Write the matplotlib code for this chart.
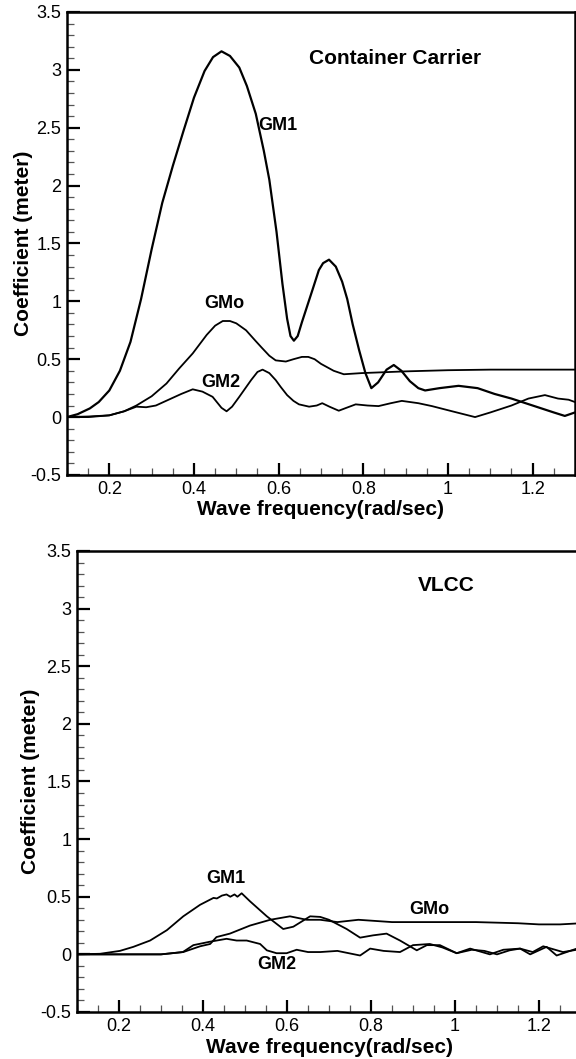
import matplotlib
matplotlib.use("Agg")
import matplotlib.pyplot as plt
from matplotlib.ticker import MultipleLocator

plt.rcParams['font.family'] = ['Liberation Sans', 'DejaVu Sans']

# Container carrier response coefficients
CC_GM1_W = [0.10, 0.125, 0.154, 0.175, 0.20, 0.225, 0.25, 0.275, 0.30, 0.325, 0.35, 0.375, 0.40,
            0.425, 0.445, 0.465, 0.485, 0.507, 0.525, 0.546, 0.565, 0.578, 0.595, 0.609, 0.62,
            0.628, 0.636, 0.645, 0.655, 0.68, 0.695, 0.705, 0.719, 0.735, 0.75, 0.762, 0.775,
            0.79, 0.805, 0.819, 0.835, 0.855, 0.872, 0.89, 0.91, 0.93, 0.946, 0.98, 1.025,
            1.07, 1.11, 1.15, 1.20, 1.25, 1.276, 1.30]
CC_GM1 = [0.0, 0.025, 0.075, 0.13, 0.23, 0.40, 0.65, 1.02, 1.45, 1.85, 2.17, 2.47, 2.76,
          2.99, 3.11, 3.16, 3.12, 3.02, 2.86, 2.62, 2.30, 2.05, 1.60, 1.15, 0.85,
          0.70, 0.66, 0.70, 0.82, 1.10, 1.27, 1.33, 1.36, 1.30, 1.17, 1.02, 0.80,
          0.58, 0.38, 0.25, 0.30, 0.41, 0.45, 0.40, 0.31, 0.25, 0.23, 0.25, 0.27,
          0.25, 0.20, 0.16, 0.10, 0.04, 0.01, 0.04]

CC_GMO_W = [0.10, 0.15, 0.20, 0.235, 0.264, 0.30, 0.335, 0.365, 0.397, 0.43, 0.45, 0.468, 0.485,
            0.50, 0.523, 0.545, 0.56, 0.578, 0.593, 0.617, 0.635, 0.655, 0.67, 0.685, 0.70,
            0.715, 0.73, 0.754, 0.796, 0.90, 1.00, 1.10, 1.20, 1.30]
CC_GMO = [0.0, 0.005, 0.015, 0.05, 0.10, 0.18, 0.29, 0.42, 0.55, 0.71, 0.79, 0.83, 0.83,
          0.81, 0.75, 0.66, 0.60, 0.53, 0.49, 0.48, 0.50, 0.52, 0.52, 0.50, 0.46,
          0.43, 0.40, 0.37, 0.38, 0.395, 0.405, 0.41, 0.41, 0.41]

CC_GM2_W = [0.10, 0.15, 0.20, 0.235, 0.264, 0.287, 0.31, 0.34, 0.37, 0.397, 0.42, 0.444, 0.465,
            0.477, 0.49, 0.507, 0.535, 0.55, 0.562, 0.578, 0.593, 0.605, 0.62, 0.635, 0.648,
            0.672, 0.69, 0.703, 0.72, 0.742, 0.76, 0.782, 0.81, 0.836, 0.865, 0.891, 0.93,
            0.962, 1.01, 1.064, 1.10, 1.15, 1.19, 1.229, 1.26, 1.285, 1.30]
CC_GM2 = [0.0, 0.0, 0.015, 0.05, 0.09, 0.085, 0.10, 0.15, 0.20, 0.24, 0.22, 0.175, 0.08,
          0.05, 0.09, 0.175, 0.32, 0.39, 0.41, 0.38, 0.32, 0.26, 0.19, 0.14, 0.11,
          0.09, 0.10, 0.12, 0.09, 0.055, 0.08, 0.11, 0.10, 0.095, 0.12, 0.14, 0.12,
          0.095, 0.05, 0.0, 0.04, 0.10, 0.16, 0.19, 0.16, 0.15, 0.13]

# VLCC response coefficients
VL_GM1_W = [0.10, 0.155, 0.202, 0.234, 0.274, 0.314, 0.353, 0.393, 0.425, 0.433, 0.445, 0.456,
            0.465, 0.475, 0.482, 0.492, 0.512, 0.552, 0.591, 0.615, 0.655, 0.679, 0.70, 0.742,
            0.774, 0.805, 0.837, 0.869, 0.909, 0.933, 0.964, 1.004, 1.036, 1.083, 1.115, 1.155,
            1.179, 1.218, 1.242, 1.29]
VL_GM1 = [0.0, 0.005, 0.03, 0.065, 0.12, 0.21, 0.33, 0.43, 0.49, 0.485, 0.51, 0.52,
          0.50, 0.52, 0.50, 0.53, 0.46, 0.33, 0.22, 0.24, 0.33, 0.325, 0.30, 0.22,
          0.145, 0.165, 0.18, 0.12, 0.035, 0.08, 0.08, 0.01, 0.05, 0.0, 0.04, 0.05,
          0.0, 0.065, -0.01, 0.05]

VL_GMO_W = [0.10, 0.30, 0.353, 0.393, 0.417, 0.432, 0.464, 0.512, 0.56, 0.607, 0.647, 0.679,
            0.72, 0.77, 0.85, 0.95, 1.05, 1.15, 1.20, 1.25, 1.30]
VL_GMO = [0.0, 0.0, 0.02, 0.07, 0.09, 0.15, 0.18, 0.25, 0.30, 0.33, 0.30, 0.30,
          0.28, 0.30, 0.28, 0.28, 0.28, 0.27, 0.26, 0.26, 0.27]

VL_GM2_W = [0.10, 0.30, 0.352, 0.377, 0.417, 0.456, 0.48, 0.504, 0.536, 0.552, 0.575, 0.599,
            0.623, 0.65, 0.679, 0.72, 0.774, 0.798, 0.83, 0.869, 0.90, 0.94, 0.97, 1.004,
            1.04, 1.07, 1.10, 1.13, 1.155, 1.185, 1.21, 1.257, 1.29]
VL_GM2 = [0.0, 0.0, 0.02, 0.08, 0.11, 0.135, 0.12, 0.12, 0.09, 0.035, 0.01, 0.01,
          0.04, 0.02, 0.02, 0.03, -0.01, 0.05, 0.03, 0.02, 0.08, 0.09, 0.06, 0.01,
          0.04, 0.03, 0.0, 0.035, 0.05, 0.02, 0.07, 0.02, 0.04]


def setup_axes(ax):
    ax.set_xlim(0.1, 1.3)
    ax.set_ylim(-0.5, 3.5)
    ax.xaxis.set_minor_locator(MultipleLocator(0.05))
    ax.yaxis.set_minor_locator(MultipleLocator(0.1))
    ax.set_xticks([0.2, 0.4, 0.6, 0.8, 1.0, 1.2])
    ax.set_xticklabels(['0.2', '0.4', '0.6', '0.8', '1', '1.2'])
    ax.set_yticks([-0.5, 0, 0.5, 1, 1.5, 2, 2.5, 3, 3.5])
    ax.set_yticklabels(['-0.5', '0', '0.5', '1', '1.5', '2', '2.5', '3', '3.5'])
    ax.tick_params(which='both', direction='in', top=False, right=False, labelsize=13)
    ax.tick_params(which='major', length=9, width=1.6)
    ax.tick_params(which='minor', length=5, width=0.9, color='#555555')
    ax.tick_params(axis='x', pad=4)
    ax.tick_params(axis='y', pad=4)
    for s in ax.spines.values():
        s.set_linewidth(1.8)
    ax.set_xlabel('Wave frequency(rad/sec)', fontsize=15, fontweight='bold')
    ax.set_ylabel('Coefficient (meter)', fontsize=15, fontweight='bold')


fig = plt.figure(figsize=(5.76, 10.59), dpi=100)

ax1 = fig.add_axes([0.1163, 0.5515, 0.8819, 0.4372])
ax1.plot(CC_GM1_W, CC_GM1, color='black', lw=1.6)
ax1.plot(CC_GMO_W, CC_GMO, color='black', lw=1.3)
ax1.plot(CC_GM2_W, CC_GM2, color='black', lw=1.3)
setup_axes(ax1)
ax1.xaxis.set_label_coords(0.5, -0.053)
ax1.yaxis.set_label_coords(-0.067, 0.5)
ax1.text(0.876, 3.10, 'Container Carrier', fontsize=15, fontweight='bold', ha='center', va='center')
ax1.text(0.552, 2.52, 'GM1', fontsize=13, fontweight='bold', ha='left', va='center')
ax1.text(0.472, 0.985, 'GMo', fontsize=13, fontweight='bold', ha='center', va='center')
ax1.text(0.464, 0.30, 'GM2', fontsize=13, fontweight='bold', ha='center', va='center')

ax2 = fig.add_axes([0.1337, 0.0444, 0.875, 0.4353])
ax2.plot(VL_GM1_W, VL_GM1, color='black', lw=1.3)
ax2.plot(VL_GMO_W, VL_GMO, color='black', lw=1.3)
ax2.plot(VL_GM2_W, VL_GM2, color='black', lw=1.3)
setup_axes(ax2)
ax2.xaxis.set_label_coords(0.5, -0.056)
ax2.yaxis.set_label_coords(-0.073, 0.5)
ax2.text(0.98, 3.20, 'VLCC', fontsize=15, fontweight='bold', ha='center', va='center')
ax2.text(0.455, 0.654, 'GM1', fontsize=13, fontweight='bold', ha='center', va='center')
ax2.text(0.575, -0.09, 'GM2', fontsize=13, fontweight='bold', ha='center', va='center')
ax2.text(0.94, 0.39, 'GMo', fontsize=13, fontweight='bold', ha='center', va='center')

fig.savefig('out.png', dpi=100)
